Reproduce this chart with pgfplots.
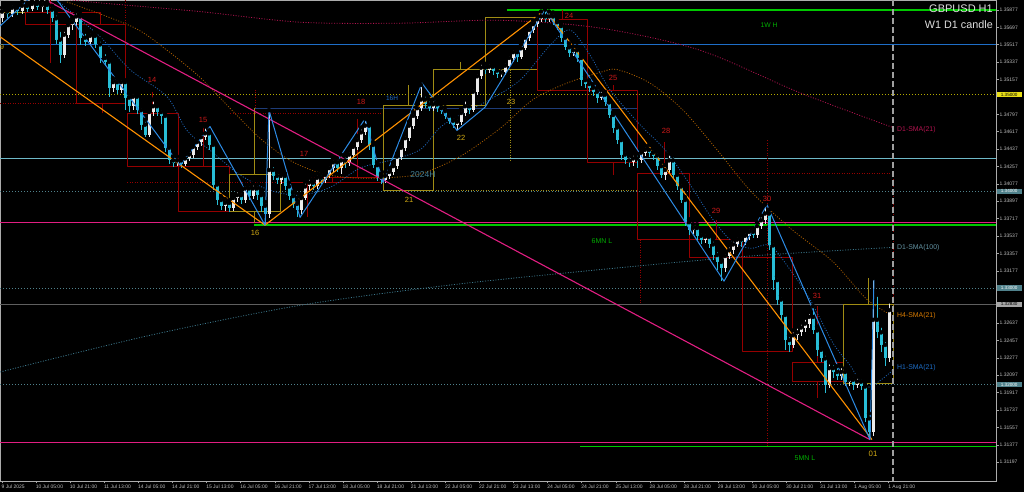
\documentclass[border=0pt]{standalone}
\usepackage{fontspec}
\setmainfont{Liberation Sans}
\usepackage{pgfplots}
\usepackage{pgfplotstable}
\pgfplotsset{compat=1.18}

\definecolor{bullc}{RGB}{235,235,235}
\definecolor{bearc}{RGB}{40,190,215}
\definecolor{magl}{RGB}{225,30,130}
\definecolor{orl}{RGB}{255,145,0}
\definecolor{zz}{RGB}{45,140,230}
\definecolor{stb}{RGB}{30,110,200}
\definecolor{cyl}{RGB}{110,185,200}
\definecolor{grl}{RGB}{0,200,0}
\definecolor{dred}{RGB}{150,0,0}
\definecolor{olv}{RGB}{160,140,20}
\definecolor{ylw}{RGB}{180,170,0}
\definecolor{tdl}{RGB}{80,130,140}
\definecolor{cur}{RGB}{95,95,95}
\definecolor{smaA}{RGB}{180,20,80}
\definecolor{smaB}{RGB}{60,120,140}
\definecolor{smaC}{RGB}{170,95,0}
\definecolor{smaD}{RGB}{30,100,180}
\definecolor{hblue}{RGB}{30,60,120}
\definecolor{lred}{RGB}{205,25,25}
\definecolor{lylw}{RGB}{210,170,20}
\definecolor{lgrn}{RGB}{0,175,0}
\definecolor{lteal}{RGB}{70,130,150}
\definecolor{tick}{RGB}{190,190,190}

\pgfplotstableread{
x o h l c
2 1.3579 1.3590 1.3575 1.3586
7 1.3586 1.3589 1.3579 1.3584
12 1.3584 1.3594 1.3580 1.3590
17 1.3590 1.3593 1.3582 1.3587
22 1.3587 1.3596 1.3584 1.3592
27 1.3592 1.3595 1.3586 1.3589
32 1.3589 1.3597 1.3587 1.3594
37 1.3594 1.3597 1.3588 1.3591
42 1.3591 1.3597 1.3586 1.3593
47 1.3593 1.3596 1.3584 1.3588
52 1.3588 1.3592 1.3575 1.3579
56 1.3579 1.3584 1.3552 1.3557
60 1.3557 1.3567 1.3533 1.3541
64 1.3541 1.3567 1.3538 1.3562
68 1.3562 1.3575 1.3559 1.3572
72 1.3572 1.3579 1.3567 1.3575
76 1.3575 1.3586 1.3571 1.3581
80 1.3581 1.3584 1.3551 1.3559
85 1.3559 1.3565 1.3550 1.3555
90 1.3555 1.3565 1.3551 1.3561
95 1.3561 1.3564 1.3548 1.3552
100 1.3552 1.3557 1.3533 1.3538
105 1.3538 1.3544 1.3530 1.3534
109 1.3534 1.3536 1.3498 1.3507
113 1.3507 1.3517 1.3503 1.3513
117 1.3513 1.3517 1.3501 1.3505
121 1.3505 1.3517 1.3502 1.3513
125 1.3513 1.3515 1.3484 1.3497
129 1.3497 1.3501 1.3482 1.3488
133 1.3488 1.3502 1.3484 1.3498
137 1.3498 1.3500 1.3480 1.3484
141 1.3484 1.3488 1.3463 1.3469
145 1.3469 1.3474 1.3456 1.3458
149 1.3458 1.3484 1.3456 1.3482
153 1.3482 1.3495 1.3478 1.3488
157 1.3488 1.3490 1.3478 1.3482
161 1.3482 1.3486 1.3470 1.3478
165 1.3478 1.3480 1.3441 1.3445
169 1.3445 1.3449 1.3428 1.3432
173 1.3432 1.3436 1.3425 1.3429
177 1.3429 1.3436 1.3426 1.3432
181 1.3432 1.3434 1.3424 1.3428
185 1.3428 1.3438 1.3426 1.3434
189 1.3434 1.3442 1.3431 1.3438
193 1.3438 1.3449 1.3434 1.3446
197 1.3446 1.3455 1.3443 1.3451
201 1.3451 1.3460 1.3447 1.3456
205 1.3456 1.3467 1.3453 1.3460
209 1.3460 1.3463 1.3443 1.3448
213 1.3448 1.3451 1.3401 1.3407
217 1.3407 1.3410 1.3386 1.3391
221 1.3391 1.3395 1.3381 1.3385
225 1.3385 1.3392 1.3380 1.3388
229 1.3388 1.3391 1.3379 1.3383
233 1.3383 1.3396 1.3380 1.3393
237 1.3393 1.3401 1.3389 1.3396
241 1.3396 1.3400 1.3387 1.3391
245 1.3391 1.3407 1.3388 1.3403
249 1.3403 1.3407 1.3391 1.3395
253 1.3395 1.3408 1.3392 1.3403
257 1.3403 1.3407 1.3391 1.3396
261 1.3396 1.3399 1.3379 1.3385
265 1.3385 1.3389 1.3365 1.3377
269 1.3377 1.3484 1.3372 1.3422
273 1.3422 1.3427 1.3412 1.3416
277 1.3416 1.3420 1.3408 1.3412
281 1.3412 1.3419 1.3408 1.3416
285 1.3416 1.3418 1.3401 1.3405
289 1.3405 1.3409 1.3391 1.3395
293 1.3395 1.3399 1.3383 1.3387
297 1.3387 1.3391 1.3373 1.3381
301 1.3381 1.3396 1.3377 1.3393
305 1.3393 1.3410 1.3391 1.3405
309 1.3405 1.3414 1.3401 1.3409
313 1.3409 1.3413 1.3401 1.3405
317 1.3405 1.3418 1.3402 1.3414
321 1.3414 1.3418 1.3408 1.3412
325 1.3412 1.3420 1.3409 1.3417
329 1.3417 1.3428 1.3414 1.3424
333 1.3424 1.3434 1.3420 1.3430
337 1.3430 1.3434 1.3420 1.3424
341 1.3424 1.3438 1.3418 1.3432
345 1.3432 1.3437 1.3424 1.3429
349 1.3429 1.3442 1.3426 1.3438
353 1.3438 1.3450 1.3434 1.3446
357 1.3446 1.3457 1.3443 1.3453
361 1.3453 1.3466 1.3450 1.3461
365 1.3461 1.3475 1.3458 1.3468
369 1.3468 1.3470 1.3443 1.3448
373 1.3448 1.3451 1.3424 1.3427
377 1.3427 1.3430 1.3411 1.3415
381 1.3415 1.3418 1.3408 1.3412
385 1.3412 1.3420 1.3409 1.3416
389 1.3416 1.3424 1.3413 1.3420
393 1.3420 1.3430 1.3417 1.3426
397 1.3426 1.3439 1.3423 1.3436
401 1.3436 1.3449 1.3432 1.3445
405 1.3445 1.3459 1.3442 1.3455
409 1.3455 1.3472 1.3452 1.3468
413 1.3468 1.3482 1.3464 1.3478
417 1.3478 1.3490 1.3475 1.3486
421 1.3486 1.3510 1.3483 1.3495
425 1.3495 1.3500 1.3486 1.3490
429 1.3490 1.3495 1.3483 1.3486
433 1.3486 1.3495 1.3483 1.3490
437 1.3490 1.3493 1.3482 1.3486
441 1.3486 1.3490 1.3480 1.3483
445 1.3483 1.3487 1.3475 1.3478
449 1.3478 1.3482 1.3470 1.3473
453 1.3473 1.3477 1.3466 1.3469
457 1.3469 1.3476 1.3463 1.3472
461 1.3472 1.3485 1.3469 1.3481
465 1.3481 1.3495 1.3478 1.3488
469 1.3488 1.3492 1.3480 1.3484
473 1.3484 1.3507 1.3482 1.3503
477 1.3503 1.3523 1.3500 1.3519
481 1.3519 1.3533 1.3516 1.3528
485 1.3528 1.3532 1.3521 1.3526
489 1.3526 1.3533 1.3522 1.3529
493 1.3529 1.3532 1.3520 1.3525
497 1.3525 1.3528 1.3517 1.3521
501 1.3521 1.3528 1.3518 1.3523
505 1.3523 1.3534 1.3520 1.3530
509 1.3530 1.3542 1.3528 1.3538
513 1.3538 1.3548 1.3534 1.3544
517 1.3544 1.3546 1.3534 1.3539
521 1.3539 1.3552 1.3537 1.3548
525 1.3548 1.3563 1.3546 1.3559
529 1.3559 1.3571 1.3556 1.3567
533 1.3567 1.3577 1.3564 1.3573
537 1.3573 1.3582 1.3570 1.3578
541 1.3578 1.3586 1.3575 1.3581
545 1.3581 1.3588 1.3575 1.3578
549 1.3578 1.3586 1.3575 1.3581
553 1.3581 1.3585 1.3572 1.3575
557 1.3575 1.3579 1.3567 1.3571
561 1.3571 1.3574 1.3555 1.3559
565 1.3559 1.3562 1.3546 1.3549
569 1.3549 1.3553 1.3539 1.3543
573 1.3543 1.3550 1.3540 1.3546
577 1.3546 1.3550 1.3534 1.3538
581 1.3538 1.3541 1.3509 1.3515
585 1.3515 1.3519 1.3507 1.3511
589 1.3511 1.3515 1.3503 1.3507
593 1.3507 1.3511 1.3499 1.3503
597 1.3503 1.3507 1.3491 1.3497
601 1.3497 1.3505 1.3495 1.3500
605 1.3500 1.3503 1.3488 1.3492
609 1.3492 1.3495 1.3476 1.3479
613 1.3479 1.3482 1.3460 1.3466
617 1.3466 1.3469 1.3449 1.3453
621 1.3453 1.3456 1.3432 1.3438
625 1.3438 1.3442 1.3428 1.3432
629 1.3432 1.3437 1.3425 1.3430
633 1.3430 1.3439 1.3426 1.3434
637 1.3434 1.3439 1.3424 1.3432
641 1.3432 1.3443 1.3429 1.3440
645 1.3440 1.3447 1.3437 1.3443
649 1.3443 1.3448 1.3436 1.3440
653 1.3440 1.3444 1.3432 1.3437
657 1.3437 1.3441 1.3422 1.3426
661 1.3426 1.3430 1.3414 1.3417
665 1.3417 1.3427 1.3412 1.3422
669 1.3422 1.3439 1.3418 1.3432
673 1.3432 1.3437 1.3414 1.3417
677 1.3417 1.3420 1.3401 1.3405
681 1.3405 1.3409 1.3388 1.3391
685 1.3391 1.3394 1.3364 1.3368
689 1.3368 1.3371 1.3355 1.3360
693 1.3360 1.3366 1.3356 1.3362
697 1.3362 1.3366 1.3350 1.3354
701 1.3354 1.3358 1.3345 1.3350
705 1.3350 1.3357 1.3346 1.3353
709 1.3353 1.3356 1.3341 1.3345
713 1.3345 1.3350 1.3329 1.3334
717 1.3334 1.3339 1.3319 1.3327
721 1.3327 1.3331 1.3307 1.3321
725 1.3321 1.3337 1.3316 1.3333
729 1.3333 1.3344 1.3330 1.3339
733 1.3339 1.3350 1.3335 1.3345
737 1.3345 1.3354 1.3342 1.3350
741 1.3350 1.3354 1.3342 1.3348
745 1.3348 1.3358 1.3344 1.3354
749 1.3354 1.3362 1.3350 1.3358
753 1.3358 1.3362 1.3352 1.3355
757 1.3355 1.3368 1.3352 1.3364
761 1.3364 1.3375 1.3361 1.3370
765 1.3370 1.3386 1.3366 1.3377
769 1.3377 1.3381 1.3339 1.3344
773 1.3344 1.3348 1.3298 1.3308
777 1.3308 1.3312 1.3282 1.3288
781 1.3288 1.3292 1.3267 1.3272
785 1.3272 1.3275 1.3236 1.3246
789 1.3246 1.3251 1.3234 1.3241
793 1.3241 1.3256 1.3238 1.3251
797 1.3251 1.3260 1.3246 1.3254
801 1.3254 1.3264 1.3250 1.3259
805 1.3259 1.3269 1.3254 1.3263
809 1.3263 1.3275 1.3259 1.3270
813 1.3270 1.3281 1.3252 1.3256
817 1.3256 1.3260 1.3230 1.3236
821 1.3236 1.3240 1.3223 1.3227
825 1.3227 1.3232 1.3191 1.3200
829 1.3200 1.3223 1.3196 1.3217
833 1.3217 1.3222 1.3207 1.3213
837 1.3213 1.3219 1.3205 1.3209
841 1.3209 1.3219 1.3205 1.3213
845 1.3213 1.3217 1.3198 1.3203
849 1.3203 1.3209 1.3198 1.3205
853 1.3205 1.3209 1.3194 1.3200
857 1.3200 1.3208 1.3196 1.3203
861 1.3203 1.3207 1.3194 1.3198
865 1.3198 1.3202 1.3161 1.3165
869 1.3165 1.3170 1.3143 1.3151
873 1.3151 1.3310 1.3147 1.3267
877 1.3267 1.3293 1.3248 1.3254
881 1.3254 1.3261 1.3234 1.3241
885 1.3241 1.3246 1.3219 1.3227
889 1.3227 1.3286 1.3223 1.3277
}\candles

\newcommand\fs[1]{\fontsize{#1}{#1}\selectfont}

\begin{document}
\begin{tikzpicture}
\useasboundingbox (0,0) rectangle (1024pt,492pt);
\fill[black] (0,0) rectangle (1024pt,492pt);
\begin{axis}[
  at={(0,11pt)}, anchor=south west,
  width=996pt, height=481pt, scale only axis,
  xmin=0, xmax=996, ymin=1.31002, ymax=1.35980,
  clip=false,
  axis line style={draw=gray!65, line width=0.9pt},
  xtick={2,36.1,70.2,104.3,138.4,172.5,206.6,240.7,274.8,308.9,343,377.1,411.2,445.3,479.4,513.5,547.6,581.7,615.8,649.9,684,718.1,752.2,786.3,820.4,854.5,888.6},
  xticklabels={9 Jul 2025,10 Jul 05:00,10 Jul 21:00,11 Jul 13:00,14 Jul 05:00,14 Jul 21:00,15 Jul 13:00,16 Jul 05:00,16 Jul 21:00,17 Jul 13:00,18 Jul 05:00,18 Jul 21:00,21 Jul 13:00,22 Jul 05:00,22 Jul 21:00,23 Jul 13:00,24 Jul 05:00,24 Jul 21:00,25 Jul 13:00,28 Jul 05:00,28 Jul 21:00,29 Jul 13:00,30 Jul 05:00,30 Jul 21:00,31 Jul 13:00,1 Aug 05:00,1 Aug 21:00},
  ytick={1.31197,1.31377,1.31557,1.31737,1.31917,1.32097,1.32277,1.32457,1.32637,1.33177,1.33357,1.33537,1.33717,1.33897,1.34077,1.34257,1.34437,1.34617,1.34797,1.35157,1.35337,1.35517,1.35697,1.35877},
  yticklabels={1.31197,1.31377,1.31557,1.31737,1.31917,1.32097,1.32277,1.32457,1.32637,1.33177,1.33357,1.33537,1.33717,1.33897,1.34077,1.34257,1.34437,1.34617,1.34797,1.35157,1.35337,1.35517,1.35697,1.35877},
  xtick pos=bottom, ytick pos=right, yticklabel pos=right,
  tick align=outside, major tick length=2.5pt,
  tick style={draw=gray!70, line width=0.5pt},
  xticklabel style={font=\fs{5}, text=tick, anchor=north west, inner sep=1pt, xshift=-1.5pt},
  yticklabel style={font=\fs{5}, text=tick, anchor=west, inner sep=1pt},
  every axis plot/.append style={line join=round},
]
% ---- horizontal levels
\addplot[stb, line width=0.9pt] coordinates {(0,1.3552) (996,1.3552)};
\addplot[ylw, line width=0.9pt, dash pattern=on 1.2pt off 1.8pt] coordinates {(0,1.3500) (996,1.3500)};
\addplot[cyl, line width=0.9pt] coordinates {(0,1.3434) (996,1.3434)};
\addplot[tdl, line width=0.7pt, dash pattern=on 1.2pt off 1.8pt] coordinates {(0,1.3400) (996,1.3400)};
\addplot[magl, line width=1pt] coordinates {(0,1.3368) (996,1.3368)};
\addplot[grl, line width=1.4pt] coordinates {(254,1.3365) (996,1.3365)};
\addplot[tdl, line width=0.7pt, dash pattern=on 1.2pt off 1.8pt] coordinates {(0,1.3300) (996,1.3300)};
\addplot[cur, line width=0.9pt] coordinates {(0,1.3283) (996,1.3283)};
\addplot[tdl, line width=0.7pt, dash pattern=on 1.2pt off 1.8pt] coordinates {(0,1.3200) (996,1.3200)};
\addplot[magl, line width=1.1pt] coordinates {(0,1.3140) (996,1.3140)};
\addplot[grl, line width=1.3pt] coordinates {(580,1.3136) (996,1.3136)};
\addplot[grl, line width=1.2pt] coordinates {(507,1.35877) (996,1.35877)};
\addplot[hblue, line width=1.3pt] coordinates {(254,1.3486) (637,1.3486)};
% ---- weekly dotted
\addplot[dred, line width=0.6pt, dash pattern=on 1pt off 1.5pt] coordinates {(0,1.3491) (127,1.3491)};
\addplot[dred, line width=0.6pt, dash pattern=on 1pt off 1.5pt] coordinates {(125,1.3598) (125,1.3491)};
\addplot[dred, line width=0.6pt, dash pattern=on 1pt off 1.5pt] coordinates {(127,1.3409) (383,1.3409)};
\addplot[dred, line width=0.6pt, dash pattern=on 1pt off 1.5pt] coordinates {(230,1.3481) (383,1.3481) (383,1.3409)};
\addplot[dred, line width=0.6pt, dash pattern=on 1pt off 1.5pt] coordinates {(255,1.3505) (255,1.3486)};
\addplot[olv, line width=0.7pt, dash pattern=on 1pt off 1.5pt] coordinates {(383,1.3401) (637,1.3401)};
\addplot[olv, line width=0.7pt, dash pattern=on 1pt off 1.5pt] coordinates {(510,1.3526) (510,1.3432)};
\addplot[dred, line width=0.6pt, dash pattern=on 1pt off 1.5pt] coordinates {(689,1.3419) (893,1.3419) (893,1.3283)};
\addplot[dred, line width=0.6pt, dash pattern=on 1pt off 1.5pt] coordinates {(640,1.3350) (640,1.3283)};
\addplot[dred, line width=0.6pt, dash pattern=on 1pt off 1.5pt] coordinates {(767,1.3453) (767,1.3137)};
% ---- daily boxes
\addplot[olv, line width=0.8pt] coordinates {(0,1.3585) (25,1.3585)};
\addplot[dred, line width=0.8pt] coordinates {(25,1.3585) (100,1.3585) (100,1.3573) (25,1.3573) (25,1.3585)};
\addplot[dred, line width=0.8pt] coordinates {(50,1.3598) (50,1.3533)};
\addplot[dred, line width=0.8pt] coordinates {(76,1.3573) (125,1.3573) (125,1.3491) (76,1.3491) (76,1.3573)};
\addplot[dred, line width=0.8pt] coordinates {(102,1.3491) (102,1.3481)};
\addplot[dred, line width=0.8pt] coordinates {(127,1.3481) (178,1.3481) (178,1.3426) (127,1.3426) (127,1.3481)};
\addplot[dred, line width=0.8pt] coordinates {(152,1.3503) (152,1.3481)};
\addplot[dred, line width=0.8pt] coordinates {(178,1.3426) (229,1.3426) (229,1.3379) (178,1.3379) (178,1.3426)};
\addplot[dred, line width=0.8pt] coordinates {(203,1.3467) (203,1.3426)};
\addplot[olv, line width=0.8pt] coordinates {(229,1.3417) (280,1.3417) (280,1.3379) (229,1.3379) (229,1.3417)};
\addplot[olv, line width=0.8pt] coordinates {(254,1.3486) (254,1.3417)};
\addplot[olv, line width=0.8pt] coordinates {(254,1.3379) (254,1.3367)};
\addplot[dred, line width=0.8pt] coordinates {(280,1.3409) (383,1.3409) (383,1.3414) (307,1.3414)};
\addplot[dred, line width=0.8pt] coordinates {(332,1.3414) (332,1.3409)};
\addplot[dred, line width=0.8pt] coordinates {(307,1.3409) (307,1.3373)};
\addplot[dred, line width=0.8pt] coordinates {(357,1.3475) (357,1.3414)};
\addplot[olv, line width=0.8pt] coordinates {(383,1.3489) (433,1.3489) (433,1.3401) (383,1.3401) (383,1.3489)};
\addplot[olv, line width=0.8pt] coordinates {(408,1.3510) (408,1.3489)};
\addplot[olv, line width=0.8pt] coordinates {(433,1.3526) (485,1.3526) (485,1.3489) (433,1.3489) (433,1.3526)};
\addplot[olv, line width=0.8pt] coordinates {(460,1.3534) (460,1.3526)};
\addplot[olv, line width=0.8pt] coordinates {(485,1.3580) (537,1.3580) (537,1.3526) (485,1.3526) (485,1.3580)};
\addplot[orl, line width=0.8pt] coordinates {(537,1.3580) (537,1.3526)};
\addplot[dred, line width=0.8pt] coordinates {(537,1.3578) (587,1.3578) (587,1.3504) (537,1.3504) (537,1.3578)};
\addplot[dred, line width=0.8pt] coordinates {(562,1.3588) (562,1.3578)};
\addplot[dred, line width=0.8pt] coordinates {(587,1.3504) (637,1.3504) (637,1.3430) (587,1.3430) (587,1.3504)};
\addplot[dred, line width=0.8pt] coordinates {(613,1.3510) (613,1.3504)};
\addplot[dred, line width=0.8pt] coordinates {(613,1.3430) (613,1.3417)};
\addplot[dred, line width=0.8pt] coordinates {(637,1.3419) (689,1.3419) (689,1.3350) (637,1.3350) (637,1.3419)};
\addplot[dred, line width=0.8pt] coordinates {(664,1.3451) (664,1.3419)};
\addplot[dred, line width=0.8pt] coordinates {(689,1.3350) (742,1.3350) (742,1.3332) (689,1.3332) (689,1.3350)};
\addplot[dred, line width=0.8pt] coordinates {(716,1.3370) (716,1.3350)};
\addplot[dred, line width=0.8pt] coordinates {(742,1.3332) (792,1.3332) (792,1.3234) (742,1.3234) (742,1.3332)};
\addplot[dred, line width=0.8pt] coordinates {(792,1.3223) (843,1.3223) (843,1.3203) (792,1.3203) (792,1.3223)};
\addplot[dred, line width=0.8pt] coordinates {(817,1.3281) (817,1.3223)};
\addplot[dred, line width=0.8pt] coordinates {(817,1.3203) (817,1.3186)};
\addplot[olv, line width=0.9pt] coordinates {(843,1.3283) (893,1.3283) (893,1.3201) (843,1.3201) (843,1.3283)};
\addplot[olv, line width=0.9pt] coordinates {(868,1.3310) (868,1.3283)};
% ---- moving averages
\addplot[smaA, line width=0.8pt, dash pattern=on 1pt off 1.6pt, smooth] coordinates {(70,1.3598) (100,1.3595) (200,1.3586) (300,1.3575) (400,1.3574) (500,1.3577) (600,1.3569) (700,1.3546) (800,1.3502) (893,1.3466)};
\addplot[smaB, line width=0.8pt, dash pattern=on 1pt off 1.6pt, smooth] coordinates {(0,1.3213) (150,1.3251) (300,1.3282) (450,1.3303) (600,1.3319) (750,1.3333) (893,1.3342)};
\addplot[smaC, line width=0.8pt, dash pattern=on 1pt off 1.6pt, smooth] coordinates {(67,1.3596) (133,1.3570) (167,1.3546) (200,1.3518) (230,1.3486) (260,1.3455) (290,1.3432) (320,1.3419) (350,1.3414) (385,1.3414) (420,1.3418) (460,1.3436) (500,1.3465) (533,1.3495) (567,1.3512) (600,1.3523) (617,1.3526) (650,1.3512) (683,1.3484) (717,1.3443) (750,1.3401) (790,1.3362) (833,1.3327) (867,1.3288) (893,1.3271)};
\addplot[smaD, line width=0.8pt, dash pattern=on 1pt off 1.6pt, smooth] coordinates {(60,1.3595) (100,1.3560) (130,1.3526) (167,1.3498) (187,1.3463) (213,1.3440) (240,1.3417) (270,1.3401) (300,1.3396) (330,1.3404) (360,1.3424) (390,1.3432) (420,1.3443) (440,1.3466) (460,1.3479) (490,1.3495) (520,1.3515) (550,1.3551) (570,1.3567) (590,1.3541) (610,1.3505) (640,1.3469) (665,1.3443) (690,1.3407) (710,1.3375) (730,1.3350) (750,1.3341) (770,1.3344) (790,1.3319) (810,1.3288) (833,1.3243) (850,1.3220) (867,1.3197) (893,1.3215)};
% ---- candles: wicks and bodies
\addplot[only marks, mark=none, restrict expr to domain={\thisrow{c}-\thisrow{o}}{0:1},
  error bars/.cd, y dir=minus, y explicit, error mark=none,
  error bar style={draw=bullc, line width=0.8pt}]
  table[x=x, y=h, y error minus expr=\thisrow{h}-\thisrow{l}] {\candles};
\addplot[only marks, mark=none, restrict expr to domain={\thisrow{c}-\thisrow{o}}{-1:0},
  error bars/.cd, y dir=minus, y explicit, error mark=none,
  error bar style={draw=bearc, line width=0.8pt}]
  table[x=x, y=h, y error minus expr=\thisrow{h}-\thisrow{l}] {\candles};
\addplot[only marks, mark=none, restrict expr to domain={\thisrow{c}-\thisrow{o}}{0:1},
  error bars/.cd, y dir=minus, y explicit, error mark=none,
  error bar style={draw=bullc, line width=3pt}]
  table[x=x, y=c, y error minus expr=\thisrow{c}-\thisrow{o}] {\candles};
\addplot[only marks, mark=none, restrict expr to domain={\thisrow{c}-\thisrow{o}}{-1:0},
  error bars/.cd, y dir=minus, y explicit, error mark=none,
  error bar style={draw=bearc, line width=3pt}]
  table[x=x, y=o, y error minus expr=\thisrow{o}-\thisrow{c}] {\candles};
% ---- trend lines and zigzag
\addplot[magl, line width=1.1pt] coordinates {(46,1.3598) (870,1.3143)};
\addplot[orl, line width=1.1pt] coordinates {(0,1.3560) (265,1.3365) (545,1.3588) (872,1.3143)};
\addplot[zz, line width=1pt] coordinates {(0,1.3571) (28,1.3598)};
\addplot[zz, line width=1pt] coordinates {(57,1.3598) (180,1.3427) (210,1.3467) (265,1.3365) (269,1.3484) (300,1.3373) (365,1.3475) (383,1.3409) (422,1.3512) (457,1.3463) (485,1.3487) (545,1.3588) (724,1.3307) (767,1.3386) (870,1.3143) (874,1.3310)};
% ---- vertical dashed line
\addplot[gray!75, line width=1.4pt, dash pattern=on 6pt off 3pt] coordinates {(893,1.3598) (893,1.3100)};
% ---- labels
\node[text=lred, font=\fs{7.5}] at (axis cs:152,1.3515) {14};
\node[text=lred, font=\fs{7.5}] at (axis cs:203,1.3474) {15};
\node[text=lylw, font=\fs{7.5}] at (axis cs:255,1.3357) {16};
\node[text=lred, font=\fs{7.5}] at (axis cs:304,1.3439) {17};
\node[text=lred, font=\fs{7.5}] at (axis cs:361,1.3492) {18};
\node[text=stb, font=\fs{6.5}] at (axis cs:392,1.3496) {16H};
\node[text=lylw, font=\fs{7.5}] at (axis cs:409,1.3391) {21};
\node[text=lylw, font=\fs{7.5}] at (axis cs:461,1.3455) {22};
\node[text=lylw, font=\fs{7.5}] at (axis cs:511,1.3492) {23};
\node[text=lred, font=\fs{7.5}] at (axis cs:569,1.3582) {24};
\node[text=lred, font=\fs{7.5}] at (axis cs:613,1.3517) {25};
\node[text=lred, font=\fs{7.5}] at (axis cs:666,1.3462) {28};
\node[text=lred, font=\fs{7.5}] at (axis cs:716,1.3380) {29};
\node[text=lred, font=\fs{7.5}] at (axis cs:767,1.3392) {30};
\node[text=lred, font=\fs{7.5}] at (axis cs:817,1.3292) {31};
\node[text=lylw, font=\fs{7.8}] at (axis cs:873,1.3128) {01};
\node[text=lylw, font=\fs{7}, anchor=west, inner sep=0pt] at (axis cs:0,1.3549) {9};
\node[text=lteal, font=\fs{8.5}] at (axis cs:423,1.3417) {2024H};
\node[text=lgrn, font=\fs{6.8}] at (axis cs:769,1.3572) {1W H};
\node[text=lgrn, font=\fs{7}] at (axis cs:602,1.3349) {6MN L};
\node[text=lgrn, font=\fs{7}] at (axis cs:805,1.3124) {5MN L};
\node[text=smaA, font=\fs{6.9}, anchor=west, inner sep=0pt] at (axis cs:897,1.3464) {D1-SMA(21)};
\node[text=smaB!80!white, font=\fs{6.9}, anchor=west, inner sep=0pt] at (axis cs:897,1.3342) {D1-SMA(100)};
\node[text=orl!85!black, font=\fs{6.9}, anchor=west, inner sep=0pt] at (axis cs:897,1.3271) {H4-SMA(21)};
\node[text=stb, font=\fs{6.9}, anchor=west, inner sep=0pt] at (axis cs:897,1.3217) {H1-SMA(21)};
\node[text=gray!25, font=\fs{11}, anchor=east, inner sep=0pt] at (axis cs:993,1.3589) {GBPUSD H1};
\node[text=gray!25, font=\fs{10.8}, anchor=east, inner sep=0pt] at (axis cs:993,1.3573) {W1 D1 candle};
% ---- price boxes on the scale
\node[fill=yellow!90!black, text=black, font=\fs{4.6}, anchor=west, inner sep=1pt, minimum width=25pt] at (axis cs:996.5,1.3500) {1.35000};
\node[fill=tdl, text=white, font=\fs{4.6}, anchor=west, inner sep=1pt, minimum width=25pt] at (axis cs:996.5,1.3400) {1.34000};
\node[fill=tdl, text=white, font=\fs{4.6}, anchor=west, inner sep=1pt, minimum width=25pt] at (axis cs:996.5,1.3300) {1.33000};
\node[fill=gray!70, text=black, font=\fs{4.6}, anchor=west, inner sep=1pt, minimum width=25pt] at (axis cs:996.5,1.3283) {1.32830};
\node[fill=tdl, text=white, font=\fs{4.6}, anchor=west, inner sep=1pt, minimum width=25pt] at (axis cs:996.5,1.3200) {1.32000};
\end{axis}
\end{tikzpicture}
\end{document}
